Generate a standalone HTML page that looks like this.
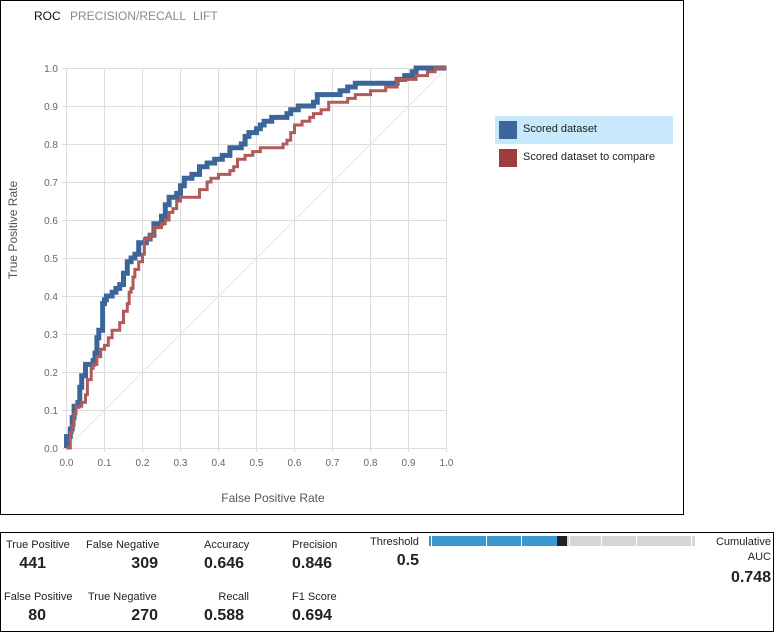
<!DOCTYPE html>
<html><head><meta charset="utf-8"><style>
body{margin:0;width:782px;height:640px;background:#fff;font-family:"Liberation Sans",sans-serif;position:relative;overflow:hidden}
.a{position:absolute;white-space:nowrap}
.l{font-size:11px;color:#222}
.v{font-size:16px;font-weight:bold;color:#222}
</style></head><body>
<div class="a" style="left:0;top:0;width:682px;height:513px;border:1px solid #000"></div>
<div class="a" style="left:34px;top:9px;font-size:12px;color:#111">ROC</div>
<div class="a" style="left:70px;top:9px;font-size:12px;color:#888">PRECISION/RECALL</div>
<div class="a" style="left:193px;top:9px;font-size:12px;color:#888">LIFT</div>

<svg class="a" style="left:0;top:0" width="782" height="520">
<g stroke="#dcdcdc" stroke-width="1">
<line x1="66.5" y1="68" x2="66.5" y2="452"/><line x1="104.5" y1="68" x2="104.5" y2="452"/><line x1="142.5" y1="68" x2="142.5" y2="452"/><line x1="180.5" y1="68" x2="180.5" y2="452"/><line x1="218.5" y1="68" x2="218.5" y2="452"/><line x1="256.5" y1="68" x2="256.5" y2="452"/><line x1="294.5" y1="68" x2="294.5" y2="452"/><line x1="332.5" y1="68" x2="332.5" y2="452"/><line x1="370.5" y1="68" x2="370.5" y2="452"/><line x1="408.5" y1="68" x2="408.5" y2="452"/><line x1="446.5" y1="68" x2="446.5" y2="452"/>
<line x1="62" y1="68.5" x2="447" y2="68.5"/><line x1="62" y1="106.5" x2="447" y2="106.5"/><line x1="62" y1="144.5" x2="447" y2="144.5"/><line x1="62" y1="182.5" x2="447" y2="182.5"/><line x1="62" y1="220.5" x2="447" y2="220.5"/><line x1="62" y1="258.5" x2="447" y2="258.5"/><line x1="62" y1="296.5" x2="447" y2="296.5"/><line x1="62" y1="334.5" x2="447" y2="334.5"/><line x1="62" y1="372.5" x2="447" y2="372.5"/><line x1="62" y1="410.5" x2="447" y2="410.5"/><line x1="62" y1="448.5" x2="447" y2="448.5"/>
</g>
<line x1="66.5" y1="448" x2="446.5" y2="68" stroke="#e6e6e6" stroke-width="1"/>
<g font-size="10" fill="#666" text-anchor="end" font-family="Liberation Sans,sans-serif">
<text x="58" y="72">1.0</text><text x="58" y="110">0.9</text><text x="58" y="148">0.8</text><text x="58" y="186">0.7</text><text x="58" y="224">0.6</text><text x="58" y="262">0.5</text><text x="58" y="300">0.4</text><text x="58" y="338">0.3</text><text x="58" y="376">0.2</text><text x="58" y="414">0.1</text><text x="58" y="452">0.0</text>
</g>
<g font-size="10" fill="#666" text-anchor="middle" font-family="Liberation Sans,sans-serif">
<text x="66.5" y="466">0.0</text><text x="104.5" y="466">0.1</text><text x="142.5" y="466">0.2</text><text x="180.5" y="466">0.3</text><text x="218.5" y="466">0.4</text><text x="256.5" y="466">0.5</text><text x="294.5" y="466">0.6</text><text x="332.5" y="466">0.7</text><text x="370.5" y="466">0.8</text><text x="408.5" y="466">0.9</text><text x="446.5" y="466">1.0</text>
</g>
<text x="273" y="502" font-size="12" fill="#555" text-anchor="middle" font-family="Liberation Sans,sans-serif">False Positive Rate</text>
<text transform="translate(17,230) rotate(-90)" font-size="12" fill="#555" text-anchor="middle" font-family="Liberation Sans,sans-serif">True Positive Rate</text>
<g transform="translate(66.5,448) scale(380,-380)" fill="none" stroke-linejoin="miter">
<polyline vector-effect="non-scaling-stroke" stroke="#3c6699" stroke-width="5" points="0,0 0,0.03 0.01,0.03 0.01,0.05 0.015,0.05 0.015,0.08 0.02,0.08 0.02,0.11 0.03,0.11 0.03,0.12 0.035,0.12 0.035,0.16 0.04,0.16 0.04,0.19 0.05,0.19 0.05,0.2 0.05,0.22 0.07,0.22 0.07,0.23 0.075,0.23 0.075,0.25 0.08,0.25 0.08,0.29 0.085,0.29 0.085,0.31 0.095,0.31 0.095,0.33 0.095,0.38 0.1,0.38 0.1,0.39 0.105,0.39 0.105,0.4 0.12,0.4 0.12,0.41 0.13,0.41 0.13,0.42 0.14,0.42 0.14,0.43 0.15,0.43 0.15,0.44 0.15,0.46 0.16,0.46 0.16,0.49 0.17,0.49 0.17,0.5 0.18,0.5 0.18,0.51 0.19,0.51 0.19,0.54 0.21,0.54 0.21,0.55 0.22,0.55 0.22,0.56 0.23,0.56 0.23,0.59 0.25,0.59 0.25,0.61 0.26,0.61 0.26,0.64 0.27,0.64 0.27,0.66 0.29,0.66 0.29,0.67 0.3,0.67 0.3,0.69 0.31,0.69 0.31,0.71 0.33,0.71 0.33,0.72 0.35,0.72 0.35,0.74 0.37,0.74 0.37,0.75 0.39,0.75 0.39,0.76 0.41,0.76 0.41,0.77 0.43,0.77 0.43,0.79 0.46,0.79 0.46,0.8 0.47,0.8 0.47,0.82 0.48,0.82 0.48,0.83 0.5,0.83 0.5,0.84 0.51,0.84 0.51,0.85 0.52,0.85 0.52,0.86 0.54,0.86 0.54,0.87 0.58,0.87 0.58,0.88 0.59,0.88 0.59,0.89 0.61,0.89 0.61,0.9 0.65,0.9 0.65,0.91 0.66,0.91 0.66,0.93 0.72,0.93 0.72,0.94 0.74,0.94 0.74,0.95 0.76,0.95 0.76,0.96 0.87,0.96 0.87,0.97 0.89,0.97 0.89,0.98 0.91,0.98 0.91,0.99 0.92,0.99 0.92,1 1,1"/>
<polyline vector-effect="non-scaling-stroke" stroke="#b05a5a" stroke-width="3" points="0,0 0.01,0 0.01,0.04 0.015,0.04 0.015,0.06 0.02,0.06 0.02,0.09 0.025,0.09 0.025,0.11 0.04,0.11 0.04,0.12 0.05,0.12 0.05,0.14 0.055,0.14 0.055,0.18 0.065,0.18 0.065,0.21 0.07,0.21 0.07,0.22 0.08,0.22 0.08,0.24 0.09,0.24 0.09,0.26 0.1,0.26 0.1,0.27 0.11,0.27 0.11,0.29 0.12,0.29 0.12,0.31 0.14,0.31 0.14,0.33 0.15,0.33 0.15,0.36 0.16,0.36 0.16,0.38 0.165,0.38 0.165,0.41 0.17,0.41 0.17,0.42 0.175,0.42 0.175,0.45 0.18,0.45 0.18,0.47 0.19,0.47 0.19,0.49 0.2,0.49 0.2,0.51 0.205,0.51 0.205,0.55 0.22,0.55 0.22,0.56 0.23,0.56 0.23,0.58 0.25,0.58 0.25,0.59 0.26,0.59 0.26,0.6 0.27,0.6 0.27,0.62 0.28,0.62 0.28,0.63 0.29,0.63 0.29,0.65 0.3,0.65 0.3,0.66 0.35,0.66 0.35,0.68 0.37,0.68 0.37,0.7 0.38,0.7 0.38,0.71 0.4,0.71 0.4,0.72 0.41,0.72 0.41,0.72 0.43,0.72 0.43,0.73 0.44,0.73 0.44,0.74 0.45,0.74 0.45,0.76 0.47,0.76 0.47,0.77 0.49,0.77 0.49,0.78 0.51,0.78 0.51,0.79 0.57,0.79 0.57,0.8 0.58,0.8 0.58,0.81 0.59,0.81 0.59,0.83 0.6,0.83 0.6,0.85 0.62,0.85 0.62,0.86 0.64,0.86 0.64,0.87 0.65,0.87 0.65,0.88 0.67,0.88 0.67,0.89 0.69,0.89 0.69,0.91 0.74,0.91 0.74,0.92 0.76,0.92 0.76,0.93 0.8,0.93 0.8,0.94 0.84,0.94 0.84,0.95 0.87,0.95 0.87,0.97 0.92,0.97 0.92,0.98 0.95,0.98 0.95,0.99 0.97,0.99 0.97,1 1,1"/>
</g>
</svg>

<div class="a" style="left:495px;top:116px;width:178px;height:28px;background:#c7e9fb"></div>
<div class="a" style="left:499px;top:121px;width:18px;height:18px;background:#3c6699"></div>
<div class="a" style="left:523px;top:123px;font-size:11px;color:#222">Scored dataset</div>
<div class="a" style="left:499px;top:149px;width:18px;height:18px;background:#9e3d3d"></div>
<div class="a" style="left:523px;top:151px;font-size:11px;color:#222">Scored dataset to compare</div>

<div class="a" style="left:0;top:532px;width:772px;height:98px;border:1px solid #000"></div>
<div class="a l" style="left:6px;top:539px">True Positive</div>
<div class="a v" style="right:736px;top:555px">441</div>
<div class="a l" style="left:86px;top:539px">False Negative</div>
<div class="a v" style="right:624px;top:555px">309</div>
<div class="a l" style="left:204px;top:539px">Accuracy</div>
<div class="a v" style="left:204px;top:555px">0.646</div>
<div class="a l" style="left:292px;top:539px">Precision</div>
<div class="a v" style="left:292px;top:555px">0.846</div>
<div class="a l" style="left:4px;top:591px">False Positive</div>
<div class="a v" style="right:736px;top:607px">80</div>
<div class="a l" style="left:88px;top:591px">True Negative</div>
<div class="a v" style="right:624px;top:607px">270</div>
<div class="a l" style="right:533px;top:591px">Recall</div>
<div class="a v" style="left:204px;top:607px">0.588</div>
<div class="a l" style="left:292px;top:591px">F1 Score</div>
<div class="a v" style="left:292px;top:607px">0.694</div>
<div class="a l" style="left:370px;top:536px">Threshold</div>
<div class="a v" style="right:363px;top:552px">0.5</div>
<div class="a" style="left:429px;top:536px;width:128px;height:10px;background:#3a9ad0"></div>
<div class="a" style="left:431px;top:536px;width:1px;height:10px;background:#fff"></div>
<div class="a" style="left:486px;top:536px;width:1px;height:10px;background:#fff"></div>
<div class="a" style="left:521px;top:536px;width:1px;height:10px;background:#fff"></div>
<div class="a" style="left:557px;top:536px;width:10px;height:10px;background:#222"></div>
<div class="a" style="left:567px;top:536px;width:128px;height:10px;background:#d6d6d6"></div>
<div class="a" style="left:569px;top:536px;width:1px;height:10px;background:#fff"></div>
<div class="a" style="left:601px;top:536px;width:1px;height:10px;background:#fff"></div>
<div class="a" style="left:636px;top:536px;width:1px;height:10px;background:#fff"></div>
<div class="a" style="left:691px;top:536px;width:1px;height:10px;background:#fff"></div>
<div class="a l" style="right:11px;top:536px">Cumulative</div>
<div class="a l" style="right:11px;top:551px">AUC</div>
<div class="a v" style="right:11px;top:569px">0.748</div>
</body></html>
